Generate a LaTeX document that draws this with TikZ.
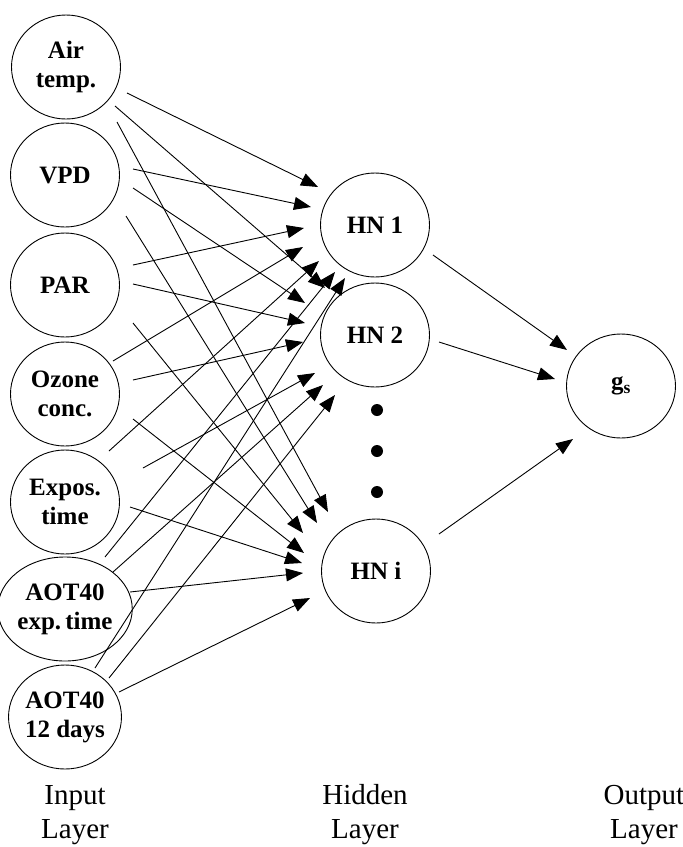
\documentclass[tikz,border=0pt]{standalone}
\usepackage{fontspec}
\setmainfont{Liberation Serif}
\usetikzlibrary{arrows.meta,calc,shapes.geometric}
\begin{document}
\begin{tikzpicture}[x=1pt,y=-1pt,
  neuron/.style={ellipse,draw,line width=0.9pt,minimum width=109pt,minimum height=104pt,inner sep=0pt,align=center,font=\fontsize{25}{29}\selectfont\bfseries},
  conn/.style={line width=0.9pt,-{Triangle[length=17pt,width=13pt]}},
  dotmark/.style={circle,fill,inner sep=0pt,minimum size=12pt},
  layerlabel/.style={align=center,font=\fontsize{29}{34}\selectfont}]
\useasboundingbox (0,0) rectangle (683,847);
% input layer
\node[neuron] (in1) at (66,67) {Air\\temp.};
\node[neuron] (in2) at (65,175) {VPD};
\node[neuron] (in3) at (65,285) {PAR};
\node[neuron] (in4) at (65,394) {Ozone\\conc.};
\node[neuron] (in5) at (65,502) {Expos.\\time};
\node[neuron] (in6) at (65,609) {AOT40\\exp.\,time};
\node[neuron] (in7) at (65,717) {AOT40\\12 days};
% hidden layer
\node[neuron] (hn1) at (375,225) {HN 1};
\node[neuron] (hn2) at (375,335) {HN 2};
\node[neuron] (hni) at (376,571) {HN i};
\node[dotmark] (d1) at (377,410) {};
\node[dotmark] (d2) at (377,451) {};
\node[dotmark] (d3) at (377,492) {};
% output
\node[neuron] (out) at (621,386) {g\textsubscript{s}};
% labels
\node[layerlabel] (l1) at (75,815) {Input\\Layer};
\node[layerlabel] (l2) at (365,815) {Hidden\\Layer};
\node[layerlabel] (l3) at (644,815) {Output\\Layer};
% connections to HN 1
\draw[conn] ($(in1)+(61,26)$) -- ($(hn1)+(-57,-38)$);
\draw[conn] ($(in2)+(68,-6)$) -- ($(hn1)+(-64,-18)$);
\draw[conn] ($(in3)+(68,-20)$) -- ($(hn1)+(-71,3)$);
\draw[conn] ($(in4)+(48,-33)$) -- ($(hn1)+(-72,22)$);
\draw[conn] ($(in5)+(44,-51)$) -- ($(hn1)+(-56,36)$);
\draw[conn] ($(in6)+(40,-52)$) -- ($(hn1)+(-40,47)$);
\draw[conn] ($(in7)+(30,-49)$) -- ($(hn1)+(-30,53)$);
% connections to HN 2
\draw[conn] ($(in1)+(49,39)$) -- ($(hn2)+(-50,-47)$);
\draw[conn] ($(in2)+(68,13)$) -- ($(hn2)+(-70,-32)$);
\draw[conn] ($(in3)+(68,-1)$) -- ($(hn2)+(-70,-12)$);
\draw[conn] ($(in4)+(68,-14)$) -- ($(hn2)+(-72,7)$);
\draw[conn] ($(in5)+(78,-34)$) -- ($(hn2)+(-60,38)$);
\draw[conn] ($(in6)+(48,-37)$) -- ($(hn2)+(-52,50)$);
\draw[conn] ($(in7)+(44,-39)$) -- ($(hn2)+(-40,60)$);
% connections to HN i
\draw[conn] ($(in1)+(51,55)$) -- ($(hni)+(-48,-59)$);
\draw[conn] ($(in2)+(61,41)$) -- ($(hni)+(-59,-48)$);
\draw[conn] ($(in3)+(68,38)$) -- ($(hni)+(-73,-38)$);
\draw[conn] ($(in4)+(68,25)$) -- ($(hni)+(-72,-18)$);
\draw[conn] ($(in5)+(65,5)$) -- ($(hni)+(-74,-8)$);
\draw[conn] ($(in6)+(65,-17)$) -- ($(hni)+(-73,2)$);
\draw[conn] ($(in7)+(54,-25)$) -- ($(hni)+(-66,27)$);
% hidden to output
\draw[conn] ($(hn1)+(58,30)$) -- ($(out)+(-54,-36)$);
\draw[conn] ($(hn2)+(64,7)$) -- ($(out)+(-66,-7)$);
\draw[conn] ($(hni)+(63,-37)$) -- ($(out)+(-48,53)$);
\end{tikzpicture}
\end{document}
